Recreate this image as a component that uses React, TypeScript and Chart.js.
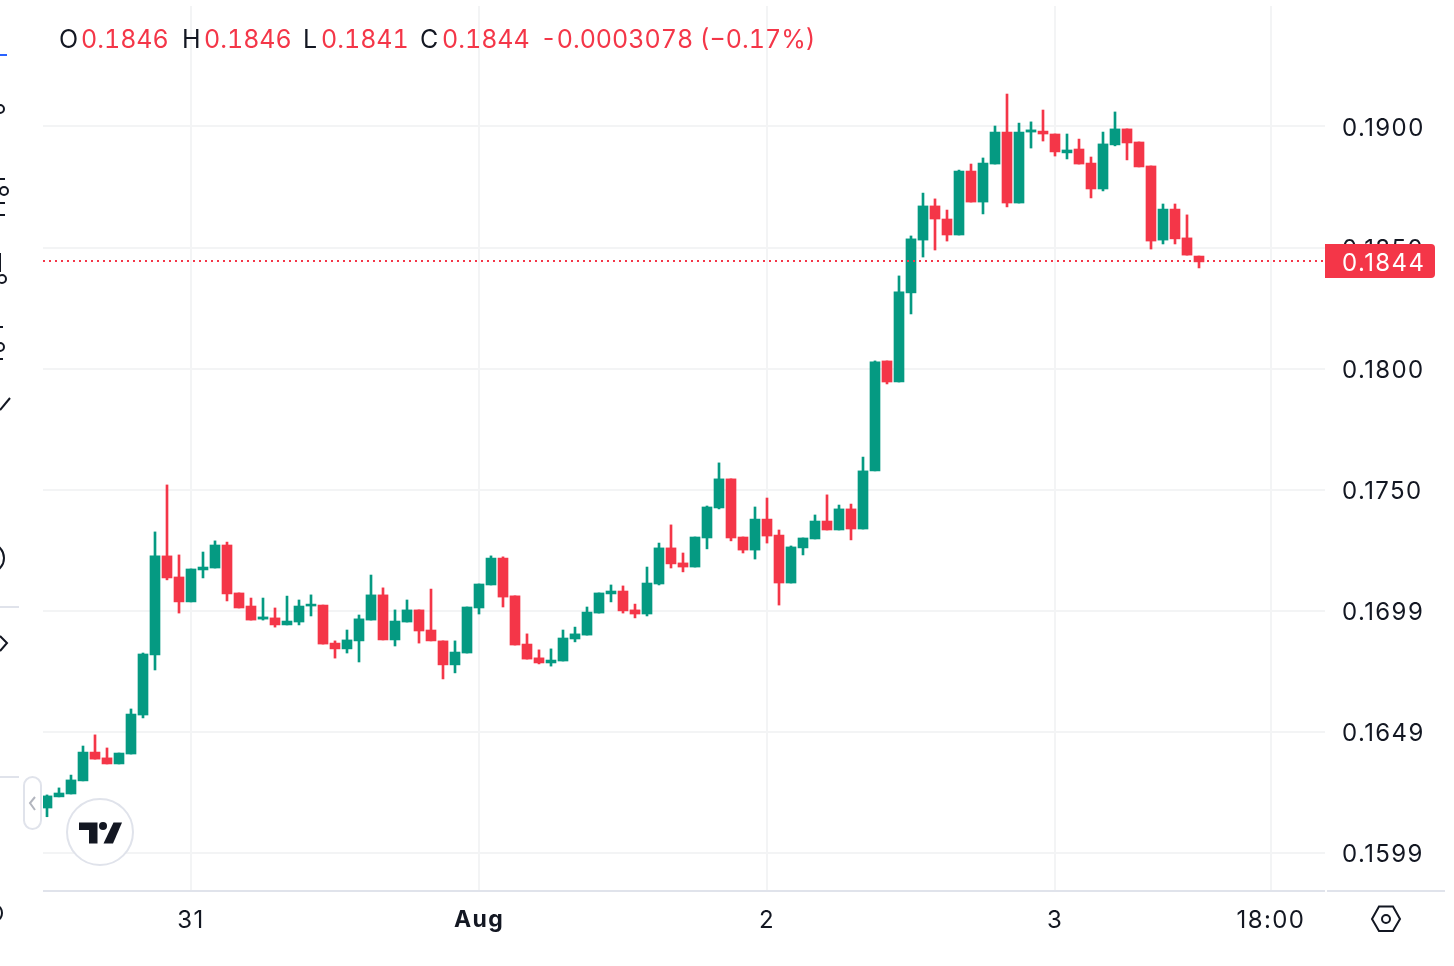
import React, { useEffect, useRef } from "react";
import { Chart, registerables } from "chart.js";

Chart.register(...registerables);

const opens = [.16186,.16232,.16244,.16298,.16417,.16393,.16368,.16409,.16570,.16818,.17227,.17140,.17037,.17169,.17177,.17272,.17074,.17020,.16966,.16971,.16942,.16954,.17020,.17024,.16867,.16843,.16876,.16962,.17066,.16880,.16954,.17004,.16921,.16876,.16777,.16826,.17012,.17107,.17218,.17062,.16863,.16806,.16785,.16793,.16884,.16900,.16991,.17070,.17082,.17004,.16987,.17111,.17260,.17198,.17181,.17301,.17425,.17545,.17305,.17251,.17379,.17313,.17115,.17260,.17297,.17371,.17334,.17421,.17338,.17578,.18032,.17945,.18313,.18531,.18672,.18618,.18552,.18816,.18688,.18845,.18977,.18684,.18977,.18981,.18969,.18891,.18907,.18849,.18742,.18924,.18990,.18936,.18837,.18531,.18659,.18540,.18465];
const highs = [.16240,.16269,.16322,.16442,.16488,.16434,.16413,.16595,.16826,.17326,.17520,.17231,.17173,.17243,.17289,.17284,.17074,.17053,.17053,.17012,.17061,.17045,.17066,.17024,.16876,.16921,.16983,.17148,.17095,.17004,.17045,.17004,.17090,.16876,.16876,.17016,.17111,.17227,.17223,.17062,.16905,.16839,.16843,.16921,.16933,.17016,.17074,.17107,.17103,.17028,.17181,.17280,.17355,.17239,.17305,.17433,.17611,.17545,.17305,.17429,.17466,.17334,.17268,.17301,.17396,.17479,.17437,.17441,.17635,.18032,.18032,.18383,.18548,.18725,.18701,.18655,.18820,.18845,.18870,.19002,.19134,.19014,.19019,.19068,.18969,.18969,.18948,.18874,.18977,.19060,.18990,.18936,.18837,.18680,.18680,.18635,.18465];
const lows = [.16150,.16232,.16244,.16298,.16388,.16368,.16368,.16409,.16558,.16756,.17128,.16991,.17037,.17136,.17177,.17041,.17012,.16962,.16962,.16933,.16942,.16942,.16979,.16863,.16805,.16826,.16789,.16962,.16880,.16855,.16954,.16867,.16876,.16719,.16744,.16826,.16987,.17107,.17016,.16859,.16801,.16781,.16772,.16793,.16872,.16900,.16991,.17037,.16991,.16971,.16979,.17107,.17177,.17161,.17181,.17256,.17421,.17289,.17239,.17214,.17280,.17024,.17115,.17231,.17297,.17334,.17334,.17293,.17338,.17578,.17937,.17945,.18226,.18461,.18490,.18527,.18552,.18688,.18639,.18845,.18668,.18684,.18911,.18940,.18878,.18866,.18845,.18705,.18734,.18920,.18862,.18833,.18494,.18515,.18515,.18469,.18416];
const closes = [.16236,.16248,.16302,.16417,.16388,.16368,.16413,.16574,.16822,.17227,.17136,.17037,.17173,.17181,.17272,.17070,.17012,.16962,.16975,.16942,.16958,.17020,.17028,.16863,.16843,.16880,.16967,.17066,.16880,.16958,.17004,.16917,.16876,.16777,.16830,.17016,.17111,.17218,.17057,.16859,.16801,.16785,.16797,.16888,.16905,.16995,.17074,.17082,.17000,.16987,.17115,.17260,.17194,.17181,.17305,.17429,.17545,.17301,.17251,.17379,.17309,.17115,.17264,.17301,.17371,.17334,.17421,.17338,.17578,.18028,.17945,.18317,.18536,.18672,.18618,.18552,.18816,.18688,.18849,.18977,.18684,.18977,.18986,.18969,.18895,.18903,.18845,.18742,.18928,.18990,.18932,.18833,.18527,.18659,.18536,.18469,.18441];

const yTickValues = [0.19, 0.185, 0.18, 0.175, 0.17, 0.165, 0.16];
const yTickLabels = ["0.1900", "0.1850", "0.1800", "0.1750", "0.1699", "0.1649", "0.1599"];
const xTickHours = [12, 36, 60, 84, 102];
const xTickLabels = ["31", "Aug", "2", "3", "18:00"];
const currentPrice = 0.18445;
const currentPriceLabel = "0.1844";
const legendLetters = ["O", "H", "L", "C"];
const legendValues = ["0.1846", "0.1846", "0.1841", "0.1844"];
const legendChange = "-0.0003078 (\u22120.17%)";

const GREEN = "#059a82";
const RED = "#f43648";
const INK = "#131722";
const FONT = "Inter";

const colors = closes.map((c, i) => (c >= opens[i] ? GREEN : RED));

function line(ctx: CanvasRenderingContext2D, pts: number[][]) {
  ctx.beginPath();
  pts.forEach((p, i) => (i ? ctx.lineTo(p[0], p[1]) : ctx.moveTo(p[0], p[1])));
  ctx.stroke();
}
function ring(ctx: CanvasRenderingContext2D, x: number, y: number, r: number) {
  ctx.beginPath();
  ctx.arc(x, y, r, 0, Math.PI * 2);
  ctx.stroke();
}
function noPadding(s: any) {
  s.paddingTop = 0;
  s.paddingBottom = 0;
  s.paddingLeft = 0;
  s.paddingRight = 0;
}

const overlay = {
  id: "overlay",
  beforeDraw(chart: any) {
    chart.ctx.letterSpacing = "1.4px";
    // nudge the price labels down so their digits sit centred on the grid lines
    const yScale = chart.scales.y;
    if (!yScale.__nudged) {
      yScale.__nudged = true;
      const drawLabels = yScale.drawLabels;
      yScale.drawLabels = function (area: any) {
        chart.ctx.save();
        chart.ctx.translate(0, 2);
        drawLabels.call(this, area);
        chart.ctx.restore();
      };
    }
  },
  afterDatasetsDraw(chart: any) {
    const ctx: CanvasRenderingContext2D = chart.ctx;
    const { left, right, bottom } = chart.chartArea;
    const y = chart.scales.y;
    const py = Math.round(y.getPixelForValue(currentPrice));
    ctx.save();

    // last-price dotted line
    ctx.strokeStyle = RED;
    ctx.lineWidth = 2;
    ctx.setLineDash([2, 4]);
    line(ctx, [[left, py], [right, py]]);
    ctx.setLineDash([]);

    // bottom axis rule
    ctx.strokeStyle = "#e0e3eb";
    ctx.lineWidth = 2;
    line(ctx, [[left, bottom + 1], [1325, bottom + 1]]);
    line(ctx, [[1327, bottom + 1], [1445, bottom + 1]]);

    // last-price label
    ctx.fillStyle = RED;
    ctx.beginPath();
    ctx.roundRect(1325, py - 17, 110, 34, [0, 4, 4, 0]);
    ctx.fill();
    ctx.fillStyle = "#ffffff";
    ctx.font = `24px ${FONT}`;
    ctx.textAlign = "left";
    ctx.textBaseline = "middle";
    ctx.fillText(currentPriceLabel, 1342, py + 3);

    // collapse button
    ctx.fillStyle = "#ffffff";
    ctx.strokeStyle = "#e0e3eb";
    ctx.lineWidth = 2;
    ctx.beginPath();
    ctx.roundRect(24, 777, 17, 52, 8.5);
    ctx.fill();
    ctx.stroke();
    ctx.strokeStyle = "#b2b5be";
    line(ctx, [[35, 797], [30, 803], [35, 810]]);

    // logo
    ctx.fillStyle = "#ffffff";
    ctx.strokeStyle = "#e0e3eb";
    ctx.beginPath();
    ctx.arc(100, 832, 33, 0, Math.PI * 2);
    ctx.fill();
    ctx.stroke();
    ctx.fillStyle = INK;
    ctx.beginPath();
    ctx.moveTo(79, 822.5);
    ctx.lineTo(97.5, 822.5);
    ctx.lineTo(97.5, 843.5);
    ctx.lineTo(89, 843.5);
    ctx.lineTo(89, 830);
    ctx.lineTo(79, 830);
    ctx.closePath();
    ctx.fill();
    ctx.beginPath();
    ctx.arc(103, 826, 4, 0, Math.PI * 2);
    ctx.fill();
    ctx.beginPath();
    ctx.moveTo(113.5, 822.5);
    ctx.lineTo(122, 822.5);
    ctx.lineTo(113, 843.5);
    ctx.lineTo(103.5, 843.5);
    ctx.closePath();
    ctx.fill();

    // settings icon
    ctx.strokeStyle = INK;
    ctx.lineWidth = 2;
    ctx.beginPath();
    ctx.moveTo(1372, 919);
    ctx.lineTo(1379, 906.5);
    ctx.lineTo(1393, 906.5);
    ctx.lineTo(1400, 919);
    ctx.lineTo(1393, 931);
    ctx.lineTo(1379, 931);
    ctx.closePath();
    ctx.stroke();
    ring(ctx, 1386, 919, 4);

    // toolbar fragments cut off at the left edge
    ctx.strokeStyle = "#2962ff";
    line(ctx, [[0, 55], [7, 55]]);
    ctx.strokeStyle = "#e0e3eb";
    line(ctx, [[0, 607], [19, 607]]);
    line(ctx, [[0, 777], [19, 777]]);
    ctx.strokeStyle = INK;
    ring(ctx, 0, 109, 4);
    line(ctx, [[0, 179], [5, 179]]);
    ring(ctx, 4, 191, 4);
    line(ctx, [[0, 203], [5, 203]]);
    line(ctx, [[0, 215], [5, 215]]);
    line(ctx, [[0, 253], [0, 272]]);
    ring(ctx, 2, 279, 4);
    line(ctx, [[0, 327], [3, 327]]);
    ring(ctx, 0, 347, 4);
    line(ctx, [[0, 359], [3, 359]]);
    line(ctx, [[0, 410], [10, 398]]);
    ctx.beginPath();
    ctx.ellipse(-9, 558, 13, 14, 0, 0, Math.PI * 2);
    ctx.stroke();
    line(ctx, [[0, 636], [7, 643], [0, 651]]);
    ctx.beginPath();
    ctx.ellipse(-3, 913, 5, 7, 0, 0, Math.PI * 2);
    ctx.stroke();
    ctx.restore();
  },
};

const legendStyle: React.CSSProperties = {
  position: "absolute",
  top: 24,
  lineHeight: "30px",
  whiteSpace: "nowrap",
  fontFamily: FONT,
  fontSize: 25,
  fontFeatureSettings: '"tnum"',
  fontVariantNumeric: "tabular-nums",
};
const letterX = [59, 182, 303, 420];
const valueX = [81, 204, 321, 442];
const changeX = 540.5;

export default function App() {
  const ref = useRef<HTMLCanvasElement>(null);
  useEffect(() => {
    const chart = new Chart(ref.current as HTMLCanvasElement, {
      type: "bar",
      data: {
        datasets: [
          {
            label: "Body",
            data: opens.map((o, i) => ({ x: i, y: [Math.min(o, closes[i]), Math.max(o, closes[i])] })) as any,
            backgroundColor: colors,
            barThickness: 10,
            grouped: false,
            order: 0,
          },
          {
            label: "Wick",
            data: highs.map((h, i) => ({ x: i, y: [lows[i], h] })) as any,
            backgroundColor: colors,
            barThickness: 2,
            grouped: false,
            order: 1,
          },
        ],
      },
      plugins: [overlay],
      options: {
        responsive: false,
        animation: false,
        events: [],
        layout: { autoPadding: false, padding: { left: 43, top: 6, right: 0, bottom: 0 } },
        plugins: { legend: { display: false }, tooltip: { enabled: false }, title: { display: false } },
        scales: {
          x: {
            type: "linear",
            offset: false,
            min: -1 / 3,
            max: 106.5,
            afterBuildTicks: (s: any) => {
              s.ticks = xTickHours.map((value) => ({ value }));
            },
            afterFit: (s: any) => {
              s.height = 76;
              noPadding(s);
            },
            grid: { offset: false, color: "#f3f4f5", lineWidth: 2, drawTicks: false },
            border: { display: false },
            ticks: {
              autoSkip: false,
              maxRotation: 0,
              padding: 16,
              color: INK,
              font: (c: any) => ({
                family: FONT,
                size: xTickLabels[c.index] === "Aug" ? 23 : 24,
                weight: xTickLabels[c.index] === "Aug" ? "bold" : "normal",
              }),
              callback: (v: any) => xTickLabels[xTickHours.indexOf(v)],
            },
          },
          y: {
            position: "right",
            min: 0.158475,
            max: 0.194975,
            afterBuildTicks: (s: any) => {
              s.ticks = yTickValues.map((value) => ({ value }));
            },
            afterFit: (s: any) => {
              s.width = 129;
              noPadding(s);
            },
            grid: { color: "#f3f4f5", lineWidth: 2, drawTicks: false },
            border: { display: false },
            ticks: {
              autoSkip: false,
              padding: 17,
              color: INK,
              font: { family: FONT, size: 24 },
              callback: (v: any) => yTickLabels[yTickValues.indexOf(v)],
            },
          },
        },
      } as any,
    });
    return () => chart.destroy();
  }, []);
  return (
    <>
      <canvas
        ref={ref}
        width={1454}
        height={966}
        style={{ position: "absolute", left: 0, top: 0, display: "block" }}
      />
      {legendLetters.map((l, i) => (
        <React.Fragment key={l}>
          <span style={{ ...legendStyle, left: letterX[i], color: INK }}>{l}</span>
          <span style={{ ...legendStyle, left: valueX[i], color: RED }}>{legendValues[i]}</span>
        </React.Fragment>
      ))}
      <span style={{ ...legendStyle, left: changeX, color: RED }}>{legendChange}</span>
    </>
  );
}
